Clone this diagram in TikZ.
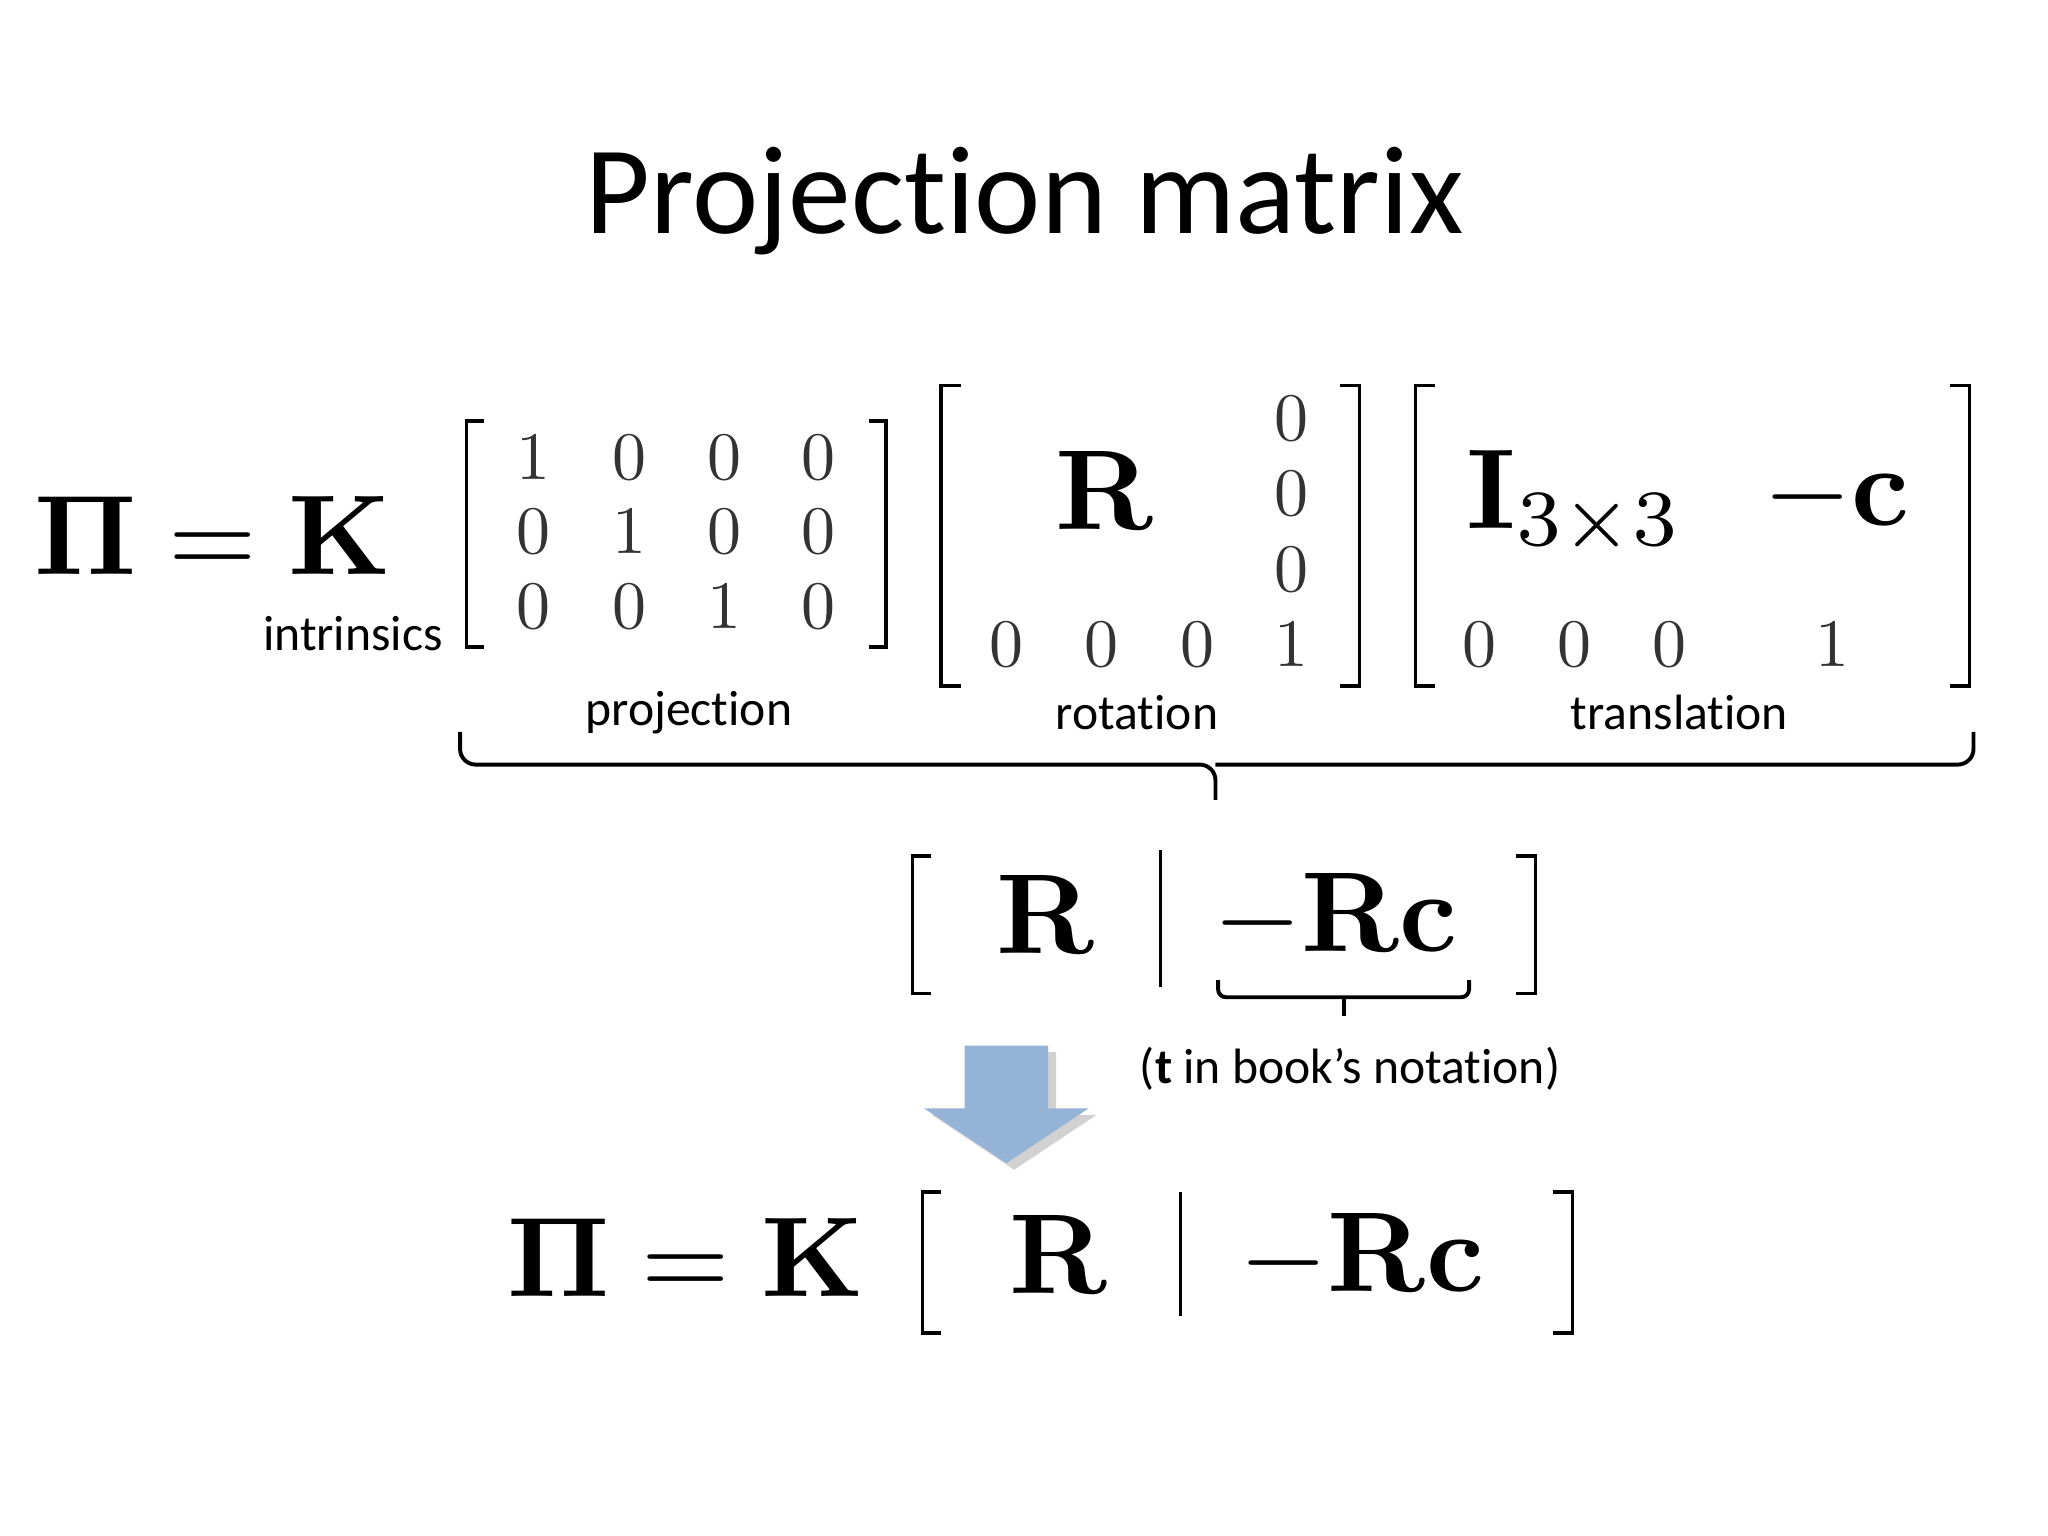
\documentclass[tikz,border=0pt]{standalone}
\usepackage{amsmath,bm}
\usepackage[no-math]{fontspec}
\setmainfont{Carlito}[RawFeature={-liga;-clig;-calt;-dlig}]
\begin{document}
\begin{tikzpicture}[x=0.5pt,y=-0.5pt,
  bigm/.style={scale=4.35,inner sep=0},
  dig/.style={scale=2.6,inner sep=0,text=black!80},
  lbl/.style={font=\fontsize{19}{22}\selectfont,inner sep=0},
  brk/.style={line width=1.3pt},
  arr/.style={fill={rgb,255:red,149;green,179;blue,215},draw=none}]
\useasboundingbox[fill=white] (0,0) rectangle (1567,1175);
\node[font=\fontsize{48}{56}\selectfont] (title) at (784,154) {Projection matrix};
% top equation
\node[bigm] (pik) at (163,410) {$\bm{\Pi}=\mathbf{K}$};
\node[lbl] (intr) at (270,485) {intrinsics};
% projection matrix
\draw[brk] (370,322) -- (357,322) -- (357,495) -- (370,495);
\draw[brk] (665,322) -- (678,322) -- (678,495) -- (665,495);
\foreach \r/\y in {0/350,1/407,2/464}{
  \foreach \c/\x in {0/408,1/482,2/554,3/626}{
    \pgfmathtruncatemacro{\v}{\r==\c?1:0}
    \node[dig] (p\r\c) at (\x,\y) {$\v$};}}
% rotation
\draw[brk] (735,295) -- (720,295) -- (720,525) -- (735,525);
\draw[brk] (1025,295) -- (1040,295) -- (1040,525) -- (1025,525);
\node[bigm] (R1) at (845,375) {$\mathbf{R}$};
\node[dig] (r0) at (988,320) {$0$};
\node[dig] (r1) at (988,378) {$0$};
\node[dig] (r2) at (988,436) {$0$};
\foreach \i/\x/\v in {0/770/0,1/843/0,2/916/0,3/988/1}{\node[dig] (rb\i) at (\x,493) {$\v$};}
% translation
\draw[brk] (1098,295) -- (1083,295) -- (1083,525) -- (1098,525);
\draw[brk] (1492,295) -- (1507,295) -- (1507,525) -- (1492,525);
\node[bigm] (I) at (1205,385) {$\mathbf{I}_{3\times3}$};
\node[bigm] (mc) at (1405,380) {$-\mathbf{c}$};
\foreach \i/\x/\v in {0/1132/0,1/1205/0,2/1277/0,3/1402/1}{\node[dig] (tb\i) at (\x,493) {$\v$};}
\node[lbl] (lp) at (527,545) {projection};
\node[lbl] (lr) at (870,545) {rotation};
\node[lbl] (lt) at (1285,545) {translation};
% big brace
\draw[line width=1.5pt,rounded corners=6pt] (352,560) -- (352,585) -- (930,585) -- (930,612);
\draw[line width=1.5pt,rounded corners=6pt] (1510,560) -- (1510,585) -- (930,585);
% middle
\draw[brk] (712,655) -- (698,655) -- (698,760) -- (712,760);
\draw[brk] (1160,655) -- (1175,655) -- (1175,760) -- (1160,760);
\node[bigm] (R2) at (800,700) {$\mathbf{R}$};
\draw[brk] (888,650) -- (888,755);
\node[bigm] (Rc2) at (1022,702) {$-\mathbf{Rc}$};
\draw[line width=1.5pt,rounded corners=3pt] (932,750) -- (932,763) -- (1124,763) -- (1124,750);
\draw[line width=1.5pt] (1028,763) -- (1028,777);
\node[lbl] (tnote) at (1033,818) {(\textbf{t} in book’s notation)};
% arrow
\fill[black!18] (744,805) -- (808,805) -- (808,853) -- (839,853) -- (776,895) -- (713,853) -- (744,853) -- cycle;
\path[arr] (738,800) -- (802,800) -- (802,848) -- (833,848) -- (770,890) -- (707,848) -- (738,848) -- cycle;
% bottom equation
\node[bigm] (pik2) at (525,962) {$\bm{\Pi}=\mathbf{K}$};
\draw[brk] (720,912) -- (706,912) -- (706,1020) -- (720,1020);
\draw[brk] (1188,912) -- (1203,912) -- (1203,1020) -- (1188,1020);
\node[bigm] (R3) at (810,960) {$\mathbf{R}$};
\draw[brk] (903,912) -- (903,1007);
\node[bigm] (Rc3) at (1042,962) {$-\mathbf{Rc}$};
\end{tikzpicture}
\end{document}
